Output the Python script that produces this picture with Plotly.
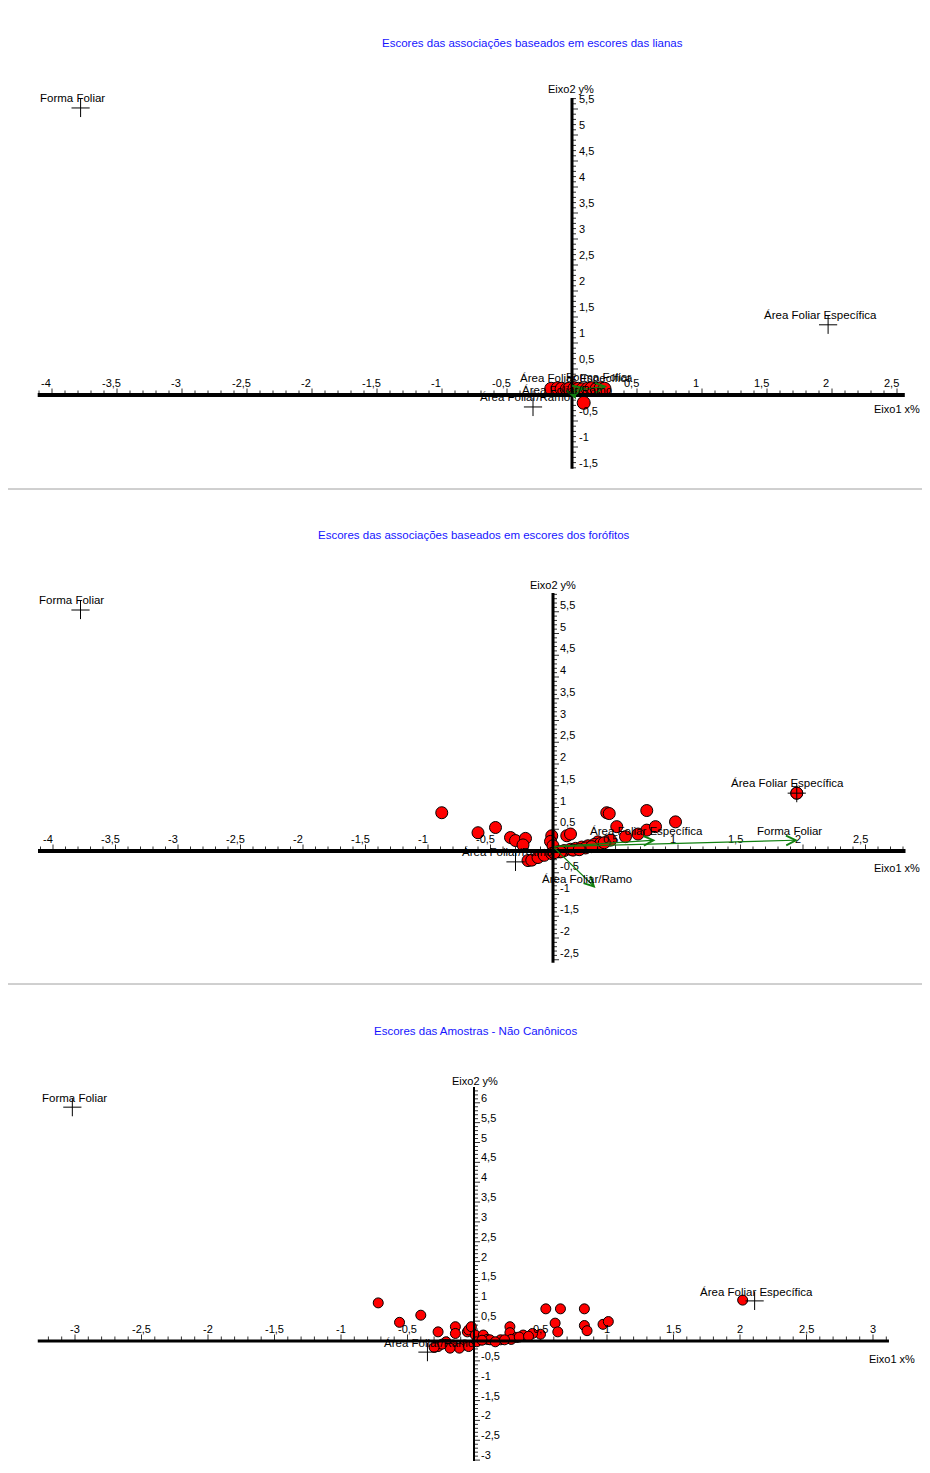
import numpy as np
import plotly.graph_objects as go

W, H = 930, 1473          # window size
OFF = 8                   # default page margin of the browser
FW, FH = W - OFF, H - OFF  # figure size

# ---------------- DATA ----------------
titles = [
    "Escores das associações baseados em escores das lianas",
    "Escores das associações baseados em escores dos forófitos",
    "Escores das Amostras - Não Canônicos",
]
var_names = ["Forma Foliar", "Área Foliar Específica", "Área Foliar/Ramo"]

# Panel 1: association scores (lianas)
p1_x = [-0.16, -0.11, -0.08, -0.04, -0.02, 0.02, 0.05, 0.08, 0.12, 0.15, 0.19, 0.22, 0.25, 0.09]
p1_y = [0.12, 0.13, 0.12, 0.11, 0.12, 0.13, 0.12, 0.11, 0.12, 0.13, 0.12, 0.13, 0.12, -0.15]
p1_var_x = [-3.78, 1.97, -0.30]
p1_var_y = [5.52, 1.35, -0.23]
p1_vec_x = [0.27, 0.10, 0.03]
p1_vec_y = [0.17, 0.15, -0.08]

# Panel 2: association scores (forófitos)
p2_x = [-0.89, -0.60, -0.46, -0.34, -0.30, -0.22, -0.24, -0.01, -0.02, 0.11, 0.14, 0.43, 0.45,
        0.75, 0.98, 0.51, 0.75, 0.82, 0.58, 0.68, 0.46, 0.36, 1.95, 0.00,
        -0.20, -0.17, -0.12, -0.07, -0.01, 0.04, 0.09, 0.14, 0.18, 0.23, 0.28, 0.33, 0.38, 0.41,
        0.06, 0.16, 0.26, 0.31, 0.21, 0.01]
p2_y = [0.88, 0.42, 0.54, 0.31, 0.24, 0.29, 0.14, 0.35, 0.22, 0.35, 0.39, 0.88, 0.86,
        0.93, 0.67, 0.56, 0.48, 0.56, 0.33, 0.39, 0.25, 0.21, 1.33, 0.12,
        -0.22, -0.21, -0.15, -0.10, -0.06, -0.02, 0.01, 0.04, 0.06, 0.09, 0.12, 0.15, 0.17, 0.19,
        -0.02, 0.02, 0.07, 0.10, 0.03, -0.04]
p2_var_x = [-3.78, 1.95, -0.30]
p2_var_y = [5.54, 1.33, -0.25]
p2_vec_x = [1.96, 0.82, 0.34]
p2_vec_y = [0.25, 0.25, -0.85]

# Panel 3: sample scores (non canonical)
p3_x = [-0.72, -0.56, -0.40, -0.27, -0.14, -0.14, -0.05, -0.04, -0.02, 0.01, 0.07, 0.27, 0.27,
        0.54, 0.65, 0.83, 0.61, 0.63, 0.83, 0.85, 0.97, 1.01, 0.50, 0.44, 2.02,
        0.37, 0.32, 0.28, 0.20, 0.10, 0.02, -0.07, -0.16, -0.21, -0.27, -0.11, -0.18, -0.04,
        0.12, 0.16, 0.23, -0.24, -0.30, 0.06, 0.34, 0.41]
p3_y = [0.96, 0.47, 0.65, 0.23, 0.36, 0.19, 0.23, 0.28, 0.36, 0.15, 0.15, 0.36, 0.21,
        0.81, 0.81, 0.81, 0.45, 0.23, 0.39, 0.26, 0.42, 0.49, 0.17, 0.19, 1.03,
        0.15, 0.09, 0.04, 0.03, 0.04, -0.02, -0.10, -0.10, -0.02, -0.14, -0.18, -0.18, -0.14,
        0.03, -0.02, 0.03, -0.08, -0.16, 0.02, 0.10, 0.12]
p3_var_x = [-3.02, 2.11, -0.35]
p3_var_y = [5.89, 1.01, -0.28]

# Tick labels
p1_xticks = [-4, -3.5, -3, -2.5, -2, -1.5, -1, -0.5, 0.5, 1, 1.5, 2, 2.5]
p1_yticks = [-1.5, -1, -0.5, 0.5, 1, 1.5, 2, 2.5, 3, 3.5, 4, 4.5, 5, 5.5]
p2_xticks = [-4, -3.5, -3, -2.5, -2, -1.5, -1, -0.5, 0.5, 1, 1.5, 2, 2.5]
p2_yticks = [-2.5, -2, -1.5, -1, -0.5, 0.5, 1, 1.5, 2, 2.5, 3, 3.5, 4, 4.5, 5, 5.5]
p3_xticks = [-3, -2.5, -2, -1.5, -1, -0.5, 0.5, 1, 1.5, 2, 2.5, 3]
p3_yticks = [-3, -2.5, -2, -1.5, -1, -0.5, 0.5, 1, 1.5, 2, 2.5, 3, 3.5, 4, 4.5, 5, 5.5, 6]


def fmt(v):
    return ("%g" % v).replace(".", ",")


def px2paper(xpx, ypx):
    return (xpx - OFF) / FW, 1 - (ypx - OFF) / FH


# ---------------- LAYOUT CONFIG (pixel geometry of the window) ----------------
panels = [
    dict(title=titles[0], tx=532, ty=43, band=(OFF, 489), x0px=572, xscale=130, y0px=395, yscale=52,
         xext=(-4.11, 2.56), yext=(-1.42, 5.71), xt=p1_xticks, yt=p1_yticks,
         px=p1_x, py=p1_y, msize=13, vx=p1_var_x, vy=p1_var_y, vecx=p1_vec_x, vecy=p1_vec_y,
         vorig=(0, 0.08), lab_dx=-8, lab_dy=10, xlab_dx=-6, ylab_dy=10, xw=4, yw=3,
         ey_lab=(571, 89), ex_lab=(897, 409), var_circle=False),
    dict(title=titles[1], tx=474, ty=535, band=(489, 984), x0px=553, xscale=125, y0px=851, yscale=43.5,
         xext=(-4.12, 2.82), yext=(-2.57, 5.93), xt=p2_xticks, yt=p2_yticks,
         px=p2_x, py=p2_y, msize=12, vx=p2_var_x, vy=p2_var_y, vecx=p2_vec_x, vecy=p2_vec_y,
         vorig=(0, 0.1), lab_dx=-9, lab_dy=10, xlab_dx=-5, ylab_dy=7, xw=4, yw=3,
         ey_lab=(553, 585), ex_lab=(897, 868), var_circle=True),
    dict(title=titles[2], tx=476, ty=1031, band=(984, H), x0px=474, xscale=133, y0px=1341, yscale=39.7,
         xext=(-3.28, 3.12), yext=(-3.02, 6.4), xt=p3_xticks, yt=p3_yticks,
         px=p3_x, py=p3_y, msize=10, vx=p3_var_x, vy=p3_var_y, vecx=None, vecy=None,
         vorig=None, lab_dx=2, lab_dy=9, xlab_dx=0, ylab_dy=5, xw=3, yw=2,
         ey_lab=(475, 1081), ex_lab=(892, 1359), var_circle=False),
]

FONT = "Liberation Sans, Arial, sans-serif"
TICKC = "#333333"
fig = go.Figure()
annotations = []
shapes = []
layout_axes = {}

for i, p in enumerate(panels, start=1):
    xa = "x" if i == 1 else "x%d" % i
    ya = "y" if i == 1 else "y%d" % i
    xkey = "xaxis" if i == 1 else "xaxis%d" % i
    ykey = "yaxis" if i == 1 else "yaxis%d" % i
    b0, b1 = p["band"]
    xr = [(OFF - p["x0px"]) / p["xscale"], (W - p["x0px"]) / p["xscale"]]
    yr = [(p["y0px"] - b1) / p["yscale"], (p["y0px"] - b0) / p["yscale"]]
    layout_axes[xkey] = dict(range=xr, domain=[0, 1], visible=False, anchor=ya, fixedrange=True)
    layout_axes[ykey] = dict(range=yr, domain=[1 - (b1 - OFF) / FH, 1 - (b0 - OFF) / FH],
                             visible=False, anchor=xa, fixedrange=True)

    # axes lines
    shapes.append(dict(type="line", xref=xa, yref=ya, x0=p["xext"][0], x1=p["xext"][1], y0=0, y1=0,
                       line=dict(color="black", width=p["xw"])))
    shapes.append(dict(type="line", xref=xa, yref=ya, x0=0, x1=0, y0=p["yext"][0], y1=p["yext"][1],
                       line=dict(color="black", width=p["yw"])))

    # tick marks (minor every 0.1, major every 0.5): x ticks above axis, y ticks right of axis
    xt_all = np.round(np.arange(np.ceil(p["xext"][0] * 10) / 10, p["xext"][1], 0.1), 2)
    yt_all = np.round(np.arange(np.ceil(p["yext"][0] * 10) / 10, p["yext"][1], 0.1), 2)
    xt_all = xt_all[np.abs(xt_all) > 1e-9]
    yt_all = yt_all[np.abs(yt_all) > 1e-9]
    tx_l, ty_l = [], []
    for v in xt_all:
        maj = abs(v * 2 - round(v * 2)) < 1e-6
        L = (6.5 if maj else 4.5) / p["yscale"]
        tx_l += [v, v, None]
        ty_l += [0, L, None]
    for v in yt_all:
        maj = abs(v * 2 - round(v * 2)) < 1e-6
        L = (6 if maj else 4) / p["xscale"]
        tx_l += [0, L, None]
        ty_l += [v, v, None]
    fig.add_trace(go.Scatter(x=tx_l, y=ty_l, xaxis=xa, yaxis=ya, mode="lines",
                             line=dict(color=TICKC, width=1), hoverinfo="skip", showlegend=False))

    # tick labels
    for v in p["xt"]:
        annotations.append(dict(x=v, y=0, xref=xa, yref=ya, text=fmt(v), showarrow=False,
                                xanchor="center", yanchor="middle", xshift=p["xlab_dx"], yshift=12,
                                font=dict(family=FONT, size=11, color="black")))
    for v in p["yt"]:
        annotations.append(dict(x=0, y=v, xref=xa, yref=ya, text=fmt(v), showarrow=False,
                                xanchor="left", yanchor="middle", xshift=5, yshift=p["ylab_dy"],
                                font=dict(family=FONT, size=11, color="black")))

    # axis titles
    ex, ey = px2paper(*p["ey_lab"])
    annotations.append(dict(x=ex, y=ey, xref="paper", yref="paper",
                            text="Eixo2 y%", showarrow=False, xanchor="center", yanchor="middle",
                            font=dict(family=FONT, size=11, color="black")))
    ex, ey = px2paper(*p["ex_lab"])
    annotations.append(dict(x=ex, y=ey, xref="paper", yref="paper",
                            text="Eixo1 x%", showarrow=False, xanchor="center", yanchor="middle",
                            font=dict(family=FONT, size=11, color="black")))
    # title
    ex, ey = px2paper(p["tx"], p["ty"])
    annotations.append(dict(x=ex, y=ey, xref="paper", yref="paper",
                            text=p["title"], showarrow=False, xanchor="center", yanchor="middle",
                            font=dict(family=FONT, size=11.5, color="#1515FF")))

    # vectors
    if p["vecx"] is not None:
        ox, oy = p["vorig"]
        for vx_, vy_, nm in zip(p["vecx"], p["vecy"], var_names):
            annotations.append(dict(x=vx_, y=vy_, ax=ox, ay=oy, xref=xa, yref=ya, axref=xa, ayref=ya,
                                    text="", showarrow=True, arrowhead=5, arrowsize=1.6, arrowwidth=1.2,
                                    arrowcolor="#108010", standoff=0, startstandoff=0))
            annotations.append(dict(x=vx_, y=vy_, xref=xa, yref=ya, text=nm, showarrow=False,
                                    xanchor="center", yanchor="middle", xshift=-9, yshift=9,
                                    font=dict(family=FONT, size=11.5, color="black")))

    # score points
    fig.add_trace(go.Scatter(x=p["px"], y=p["py"], xaxis=xa, yaxis=ya, mode="markers",
                             marker=dict(symbol="circle", size=p["msize"], color="#FF0000",
                                         line=dict(color="black", width=1)),
                             showlegend=False, name="Escores"))

    # variable points (crosses) + labels
    if p["var_circle"]:
        fig.add_trace(go.Scatter(x=[p["vx"][1]], y=[p["vy"][1]], xaxis=xa, yaxis=ya, mode="markers",
                                 marker=dict(symbol="circle", size=p["msize"], color="#FF0000",
                                             line=dict(color="black", width=1)),
                                 showlegend=False, hoverinfo="skip"))
    fig.add_trace(go.Scatter(x=p["vx"], y=p["vy"], xaxis=xa, yaxis=ya, mode="markers",
                             marker=dict(symbol="cross-thin-open", size=13, color="black",
                                         line=dict(color="black", width=1)),
                             showlegend=False, name="Variáveis"))
    for vx_, vy_, nm in zip(p["vx"], p["vy"], var_names):
        annotations.append(dict(x=vx_, y=vy_, xref=xa, yref=ya, text=nm, showarrow=False,
                                xanchor="center", yanchor="middle", xshift=p["lab_dx"], yshift=p["lab_dy"],
                                font=dict(family=FONT, size=11.5, color="black")))

# separators
for ypx in (489, 984):
    _, yp = px2paper(0, ypx)
    shapes.append(dict(type="line", xref="paper", yref="paper", x0=0, x1=1, y0=yp, y1=yp,
                       line=dict(color="#A0A0A0", width=1)))

fig.update_layout(width=FW, height=FH, margin=dict(l=0, r=0, t=0, b=0), paper_bgcolor="white",
                  plot_bgcolor="white", showlegend=False, annotations=annotations, shapes=shapes,
                  font=dict(family=FONT, size=11, color="black"), **layout_axes)

fig.write_html("out.html")
